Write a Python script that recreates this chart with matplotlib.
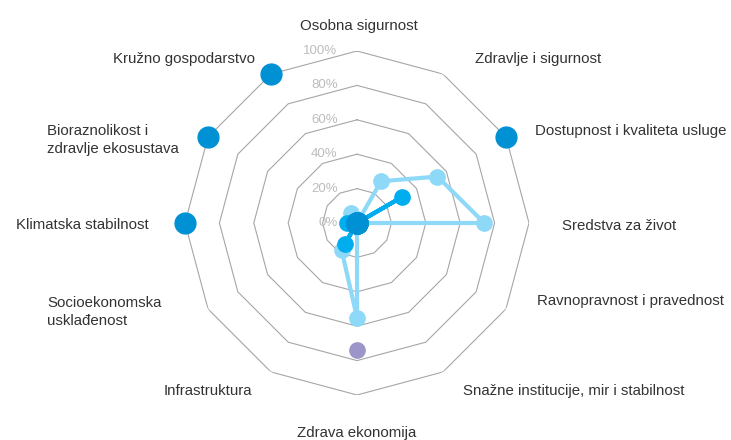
import numpy as np
import matplotlib.pyplot as plt

plt.rcParams['font.family'] = ['Liberation Sans', 'DejaVu Sans']

# kategorije u smjeru kazaljke na satu, pocevsi od vrha
kategorije = ['Osobna sigurnost', 'Zdravlje i sigurnost', 'Dostupnost i kvaliteta usluge',
              'Sredstva za život', 'Ravnopravnost i pravednost',
              'Snažne institucije, mir i stabilnost', 'Zdrava ekonomija', 'Infrastruktura',
              'Socioekonomska\nusklađenost', 'Klimatska stabilnost',
              'Bioraznolikost i\nzdravlje ekosustava', 'Kružno gospodarstvo']

# vrijednosti u %
svijetloplava = [0, 28, 54, 74, 0, 0, 55, 18, 0, 0, 0, 7]
plava = [0, 0, 30, 0, 0, 0, 0, 14, 0, 6, 0, 0]
tamnoplava = [0, 0, 100, 0, 0, 0, 0, 0, 0, 100, 100, 100]
ljubicasta = [np.nan, np.nan, np.nan, np.nan, np.nan, np.nan, 74, np.nan, np.nan, np.nan, np.nan, np.nan]
postoci = [0, 20, 40, 60, 80, 100]

# polozaj natpisa u pikselima (x, y baseline, poravnanje)
natpisi_xy = [(359, 30, 'center'), (475, 63, 'left'), (535, 135, 'left'), (562, 230, 'left'),
              (537, 305, 'left'), (463, 395, 'left'), (357, 437, 'center'), (252, 395, 'right'),
              (47, 307, 'left'), (16, 229, 'left'), (47, 135, 'left'), (255, 63, 'right')]

W, H = 731, 440
fig = plt.figure(figsize=(W / 100, H / 100), dpi=100)
ax = fig.add_axes([185 / W, 45 / H, 344 / W, 344 / H], projection='polar')
ax.set_theta_zero_location('N')
ax.set_theta_direction(-1)
ax.set_ylim(0, 1)
ax.set_xticks([])
ax.set_yticks([])
ax.grid(False)
ax.spines['polar'].set_visible(False)
ax.patch.set_alpha(0)

n = len(kategorije)
kut = np.linspace(0, 2 * np.pi, n, endpoint=False)
kut_z = np.append(kut, kut[0])

# mreza (dvanaesterokuti)
for p in postoci[1:]:
    ax.plot(kut_z, [p / 100] * (n + 1), color='#a6a6a6', lw=0.8, zorder=1)
for p in postoci:
    ax.annotate('{}%'.format(p), (0, p / 100), xytext=(-14, 0), textcoords='offset points',
                ha='right', va='center', fontsize=9.5, color='#bdbdbd', zorder=2)

v = np.array(svijetloplava) / 100
ax.plot(kut_z, np.append(v, v[0]), color='#8ed8f8', lw=3, marker='o', ms=11,
        clip_on=False, zorder=3)
v = np.array(plava) / 100
ax.plot(kut_z, np.append(v, v[0]), color='#00adef', lw=3, marker='o', ms=11,
        clip_on=False, zorder=4)
v = np.array(ljubicasta) / 100
ax.plot(kut, v, ls='none', marker='o', ms=11, color='#9b95c9', clip_on=False, zorder=4)
v = np.array(tamnoplava) / 100
ax.plot(kut, v, ls='none', marker='o', ms=15, color='#0091d5', clip_on=False, zorder=5)

for naziv, (x, y, ha) in zip(kategorije, natpisi_xy):
    fig.text(x / W, 1 - y / H, naziv.split('\n')[0], ha=ha, va='baseline',
             fontsize=10.8, color='#333333')
    if '\n' in naziv:
        fig.text(x / W, 1 - (y + 18) / H, naziv.split('\n')[1], ha=ha, va='baseline',
                 fontsize=10.8, color='#333333')

plt.savefig('out.png', dpi=100)
